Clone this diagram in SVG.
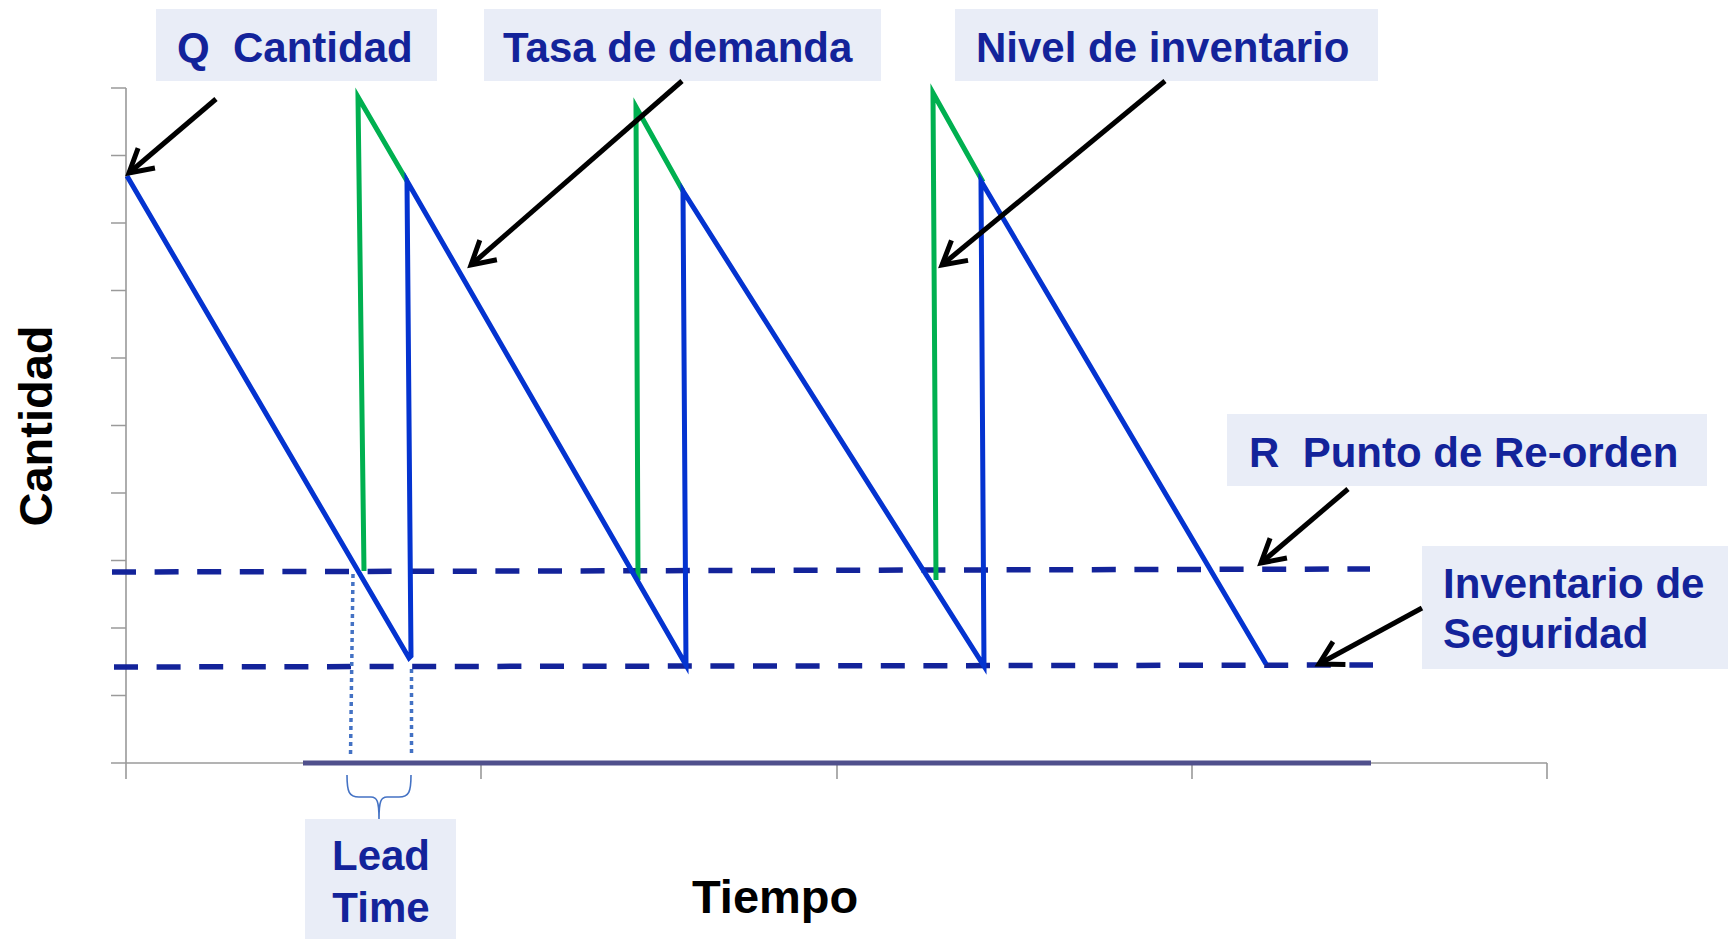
<svg xmlns="http://www.w3.org/2000/svg" width="1728" height="939" viewBox="0 0 1728 939">
<style>
.box{fill:#E9EDF7}
.lbl{font-family:"Liberation Sans",Arial,sans-serif;font-weight:bold;font-size:42px;fill:#13239A;white-space:pre}
.ax{font-family:"Liberation Sans",Arial,sans-serif;font-weight:bold;font-size:47px;fill:#000}
.axis{stroke:#9A9A9A;stroke-width:1.6;fill:none}
.dash{stroke:#13239A;stroke-width:5.5;stroke-dasharray:24 18.6;fill:none}
.inv{stroke:#0433D0;stroke-width:5;fill:none;stroke-linejoin:miter}
.ord{stroke:#00B050;stroke-width:5;fill:none}
.dot{stroke:#4472C4;stroke-width:3.5;stroke-dasharray:4 4;fill:none}
.arr{stroke:#000;stroke-width:5;fill:none;marker-end:url(#ah)}
</style>
<defs>
<marker id="ah" markerUnits="userSpaceOnUse" markerWidth="60" markerHeight="60" refX="0" refY="0" viewBox="-30 -30 60 60" orient="auto" overflow="visible">
<path d="M-23,-13 L0,0 L-23,13" fill="none" stroke="#000" stroke-width="5" stroke-linejoin="miter"/>
</marker>
</defs>
<rect width="1728" height="939" fill="#fff"/>

<g id="axes">
<path class="axis" d="M126,88 V779 M111,763 H1547"/>
<path class="axis" d="M111,88 H126 M111,155.5 H126 M111,223 H126 M111,290.5 H126 M111,358 H126 M111,425.5 H126 M111,493 H126 M111,560.5 H126 M111,628 H126 M111,695.5 H126"/>
<path class="axis" d="M481,763 V779 M837,763 V779 M1192,763 V779 M1547,763 V779"/>
<line x1="303" y1="763" x2="1371" y2="763" stroke="#50508C" stroke-width="5"/>
<text class="ax" x="0" y="0" text-anchor="middle" transform="translate(52,426) rotate(-90)">Cantidad</text>
<text class="ax" x="692" y="913">Tiempo</text>
</g>

<g id="levels">
<line class="dash" x1="112" y1="572" x2="1370" y2="569"/>
<line class="dash" x1="114" y1="667" x2="1373" y2="665"/>
</g>

<g id="inventory">
<polyline class="ord" points="364,571 358,97 407,181"/>
<polyline class="ord" points="638,580 636,107 683,191"/>
<polyline class="ord" points="936,580 933,93 983,182"/>
<polyline class="inv" points="127,176 409,658 411,656 407,181 686,665 683,191 984,666 981,181 1266,664"/>
</g>

<g id="leadtime">
<line class="dot" x1="353" y1="574" x2="350.5" y2="756"/>
<line class="dot" x1="411.5" y1="669" x2="411.5" y2="756"/>
<path d="M347,775 C347,792 349,797 359,797 L371,797 C377,797 379,801 379,819 M411,775 C411,792 409,797 399,797 L387,797 C381,797 379,801 379,819" fill="none" stroke="#4472C4" stroke-width="1.6"/>
</g>

<g id="node-q">
<rect class="box" x="156" y="9" width="281" height="72"/>
<text class="lbl" x="177" y="62">Q  Cantidad</text>
</g>
<g id="node-tasa">
<rect class="box" x="484" y="9" width="397" height="72"/>
<text class="lbl" x="503" y="62">Tasa de demanda</text>
</g>
<g id="node-nivel">
<rect class="box" x="955" y="9" width="423" height="72"/>
<text class="lbl" x="976" y="62">Nivel de inventario</text>
</g>
<g id="node-r">
<rect class="box" x="1227" y="414" width="480" height="72"/>
<text class="lbl" x="1249" y="467">R  Punto de Re-orden</text>
</g>
<g id="node-seguridad">
<rect class="box" x="1422" y="546" width="306" height="123"/>
<text class="lbl" x="1443" y="598">Inventario de</text>
<text class="lbl" x="1443" y="648">Seguridad</text>
</g>
<g id="node-lead">
<rect class="box" x="305" y="819" width="151" height="120"/>
<text class="lbl" x="381" y="870" text-anchor="middle">Lead</text>
<text class="lbl" x="381" y="922" text-anchor="middle">Time</text>
</g>

<g id="connectors">
<line class="arr" x1="216" y1="99" x2="129" y2="173"/>
<line class="arr" x1="682" y1="81" x2="471" y2="265"/>
<line class="arr" x1="1165" y1="81" x2="942" y2="265"/>
<line class="arr" x1="1348" y1="489" x2="1261" y2="563"/>
<line class="arr" x1="1422" y1="608" x2="1319" y2="664"/>
</g>
</svg>
